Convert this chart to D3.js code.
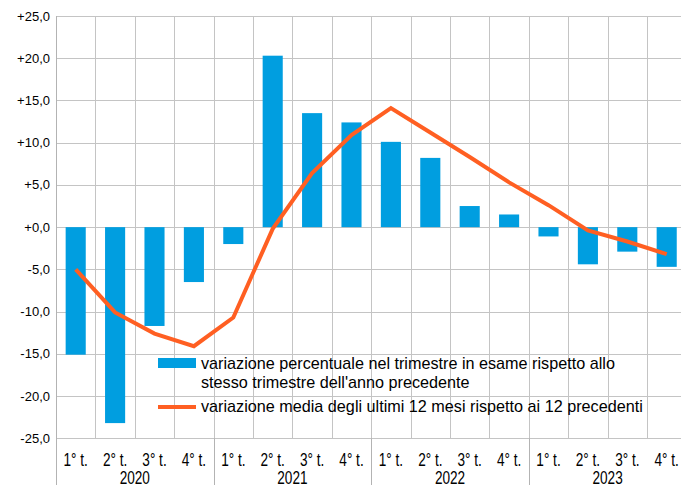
<!DOCTYPE html>
<html>
<head>
<meta charset="utf-8">
<script src="https://cdn.jsdelivr.net/npm/d3@7/dist/d3.min.js"></script>
<style>
  html, body { margin: 0; padding: 0; background: #fff; }
  svg { display: block; font-family: "Liberation Sans", Arial, sans-serif; }
</style>
</head>
<body>
<svg id="chart" width="681" height="486"></svg>
<script>
// quarters and years on the x axis
const quarterLabels = ["1° t.", "2° t.", "3° t.", "4° t."];
const years = ["2020", "2021", "2022", "2023"];

// y-axis ticks
const yTicks = [-25, -20, -15, -10, -5, 0, 5, 10, 15, 20, 25];

// quarterly change vs same quarter of previous year (bars)
const barValues = [-15.1, -23.2, -11.7, -6.5, -2.0, 20.3, 13.5, 12.4,
                   10.1, 8.2, 2.5, 1.5, -1.1, -4.4, -2.9, -4.7];

// average change of last 12 months vs previous 12 (line)
const lineValues = [-5.0, -10.1, -12.6, -14.1, -10.7, -0.2, 6.4, 10.9,
                    14.1, 11.2, 8.3, 5.3, 2.6, -0.4, -1.7, -3.2];

const legendLabels = [
  ["variazione percentuale nel trimestre in esame rispetto allo",
   "stesso trimestre dell'anno precedente"],
  ["variazione media degli ultimi 12 mesi rispetto ai 12 precedenti"]
];

const BLUE = "#009ee0";
const ORANGE = "#ff5f22";
const GRID = "#c4c4c4";

const svg = d3.select("#chart");
const plotLeft = 56, plotTop = 16, plotBottom = 438.3, step = 39.4;

// one band per quarter (the last one runs past the window edge)
const idx = d3.range(barValues.length);
const x = d3.scaleBand().domain(idx).range([plotLeft, plotLeft + step * idx.length]).padding(0);
const y = d3.scaleLinear().domain([-25, 25]).range([plotBottom, plotTop]);

const fmt = v => (v < 0 ? "-" : "+") + Math.abs(v).toFixed(1).replace(".", ",");

// horizontal grid
svg.append("g").selectAll("line")
  .data(yTicks).enter().append("line")
  .attr("x1", plotLeft).attr("x2", 681)
  .attr("y1", d => Math.round(y(d)) + 0.5).attr("y2", d => Math.round(y(d)) + 0.5)
  .attr("stroke", GRID).attr("stroke-width", 1);

// vertical grid (one per quarter boundary)
svg.append("g").selectAll("line")
  .data(idx.slice(1)).enter().append("line")
  .attr("x1", d => Math.round(x(d)) + 0.5).attr("x2", d => Math.round(x(d)) + 0.5)
  .attr("y1", plotTop).attr("y2", Math.round(plotBottom) + 0.5)
  .attr("stroke", GRID).attr("stroke-width", 1);

// year separators below the plot + y axis line
const sepIdx = [0, 4, 8, 12];
svg.append("g").selectAll("line")
  .data(sepIdx).enter().append("line")
  .attr("x1", d => Math.round(x(d)) + 0.5).attr("x2", d => Math.round(x(d)) + 0.5)
  .attr("y1", d => d === 0 ? plotTop : plotBottom).attr("y2", 485)
  .attr("stroke", "#b3b3b3").attr("stroke-width", 1);

// y tick labels
svg.append("g").selectAll("text")
  .data(yTicks).enter().append("text")
  .attr("x", 50).attr("y", d => y(d) + 4.5)
  .attr("text-anchor", "end")
  .attr("font-size", "13px").attr("fill", "#000")
  .text(fmt);

// bars
const barW = x.bandwidth() * 0.51;
svg.append("g").selectAll("rect")
  .data(barValues).enter().append("rect")
  .attr("x", (d, i) => x(i) + (x.bandwidth() - barW) / 2)
  .attr("width", barW)
  .attr("y", d => y(Math.max(0, d)))
  .attr("height", d => Math.abs(y(d) - y(0)))
  .attr("fill", BLUE);

// line
const line = d3.line()
  .x((d, i) => x(i) + x.bandwidth() / 2)
  .y(d => y(d));
svg.append("path")
  .datum(lineValues)
  .attr("d", line)
  .attr("fill", "none")
  .attr("stroke", ORANGE)
  .attr("stroke-width", 4)
  .attr("stroke-linejoin", "miter");

// x labels are drawn a bit taller than wide, like the original
const xStretch = "scale(1,1.3)";

// quarter labels
svg.append("g").selectAll("text")
  .data(idx).enter().append("text")
  .attr("transform", d => `translate(${x(d) + x.bandwidth() / 2},465.5) ${xStretch}`)
  .attr("text-anchor", "middle")
  .attr("font-size", "13.6px")
  .text(d => quarterLabels[d % 4]);

// year labels
svg.append("g").selectAll("text")
  .data(years).enter().append("text")
  .attr("transform", (d, i) => `translate(${x(i * 4) + x.bandwidth() * 2},484) ${xStretch}`)
  .attr("text-anchor", "middle")
  .attr("font-size", "13.6px")
  .text(d => d);

// legend
const lg = svg.append("g").attr("font-size", "16.2px");
lg.append("rect").attr("x", 158).attr("y", 358).attr("width", 38).attr("height", 10).attr("fill", BLUE);
lg.append("line").attr("x1", 158).attr("x2", 196).attr("y1", 407).attr("y2", 407)
  .attr("stroke", ORANGE).attr("stroke-width", 4);
const t1 = lg.append("text").attr("x", 201).attr("y", 369);
legendLabels[0].forEach((s, i) => t1.append("tspan").attr("x", 201).attr("dy", i ? 18.5 : 0).text(s));
lg.append("text").attr("x", 201).attr("y", 412).text(legendLabels[1][0]);
</script>
</body>
</html>
